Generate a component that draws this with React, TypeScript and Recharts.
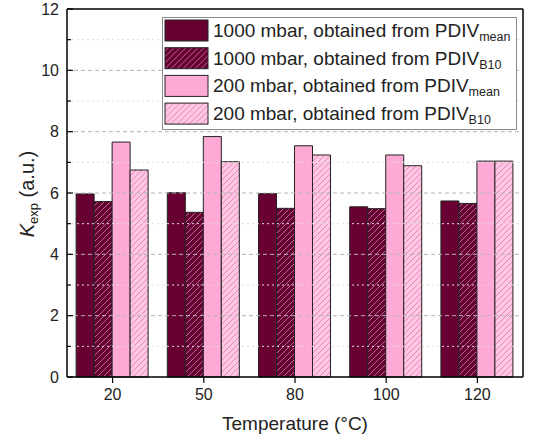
import React from 'react';
import { BarChart, Bar, XAxis, YAxis, ReferenceLine, Label } from 'recharts';

const TEMPERATURES = ['20', '50', '80', '100', '120'];
const K_1000_MEAN = [5.97, 6.01, 5.98, 5.55, 5.74];
const K_1000_B10 = [5.72, 5.37, 5.5, 5.49, 5.66];
const K_200_MEAN = [7.66, 7.84, 7.54, 7.24, 7.04];
const K_200_B10 = [6.75, 7.02, 7.24, 6.89, 7.04];
const Y_TICKS = [0, 1, 2, 3, 4, 5, 6, 7, 8, 9, 10, 11, 12];

const SERIES = [
  { key: 'm1000', label: '1000 mbar, obtained from PDIV', sub: 'mean', fill: '#680034' },
  { key: 'b1000', label: '1000 mbar, obtained from PDIV', sub: 'B10', fill: 'url(#hatchDark)' },
  { key: 'm200', label: '200 mbar, obtained from PDIV', sub: 'mean', fill: '#ffaad6' },
  { key: 'b200', label: '200 mbar, obtained from PDIV', sub: 'B10', fill: 'url(#hatchPink)' },
];

const data = TEMPERATURES.map((t, i) => ({
  temp: t,
  m1000: K_1000_MEAN[i],
  b1000: K_1000_B10[i],
  m200: K_200_MEAN[i],
  b200: K_200_B10[i],
}));

const FONT = 'Arial, "Liberation Sans", sans-serif';
const PLOT_LEFT = 67;
const PLOT_RIGHT = 523;

function Hatches({ suffix = '' }: { suffix?: string }) {
  return (
    <defs>
      <pattern id={`hatchDark${suffix}`} patternUnits="userSpaceOnUse" width="6" height="6">
        <rect width="6" height="6" fill="#680034" />
        <path d="M0,6 L6,0 M-1,1 L1,-1 M5,7 L7,5" stroke="#b26a8e" strokeWidth="1" />
      </pattern>
      <pattern id={`hatchPink${suffix}`} patternUnits="userSpaceOnUse" width="6" height="6">
        <rect width="6" height="6" fill="#ffc6e3" />
        <path d="M0,6 L6,0 M-1,1 L1,-1 M5,7 L7,5" stroke="#e58ab8" strokeWidth="1" />
      </pattern>
    </defs>
  );
}

const LeftTick = (props: any) => {
  const { y, payload } = props;
  const major = payload.value % 2 === 0;
  return (
    <g>
      <line x1={PLOT_LEFT} x2={PLOT_LEFT + (major ? 6 : 4)} y1={y} y2={y} stroke="#000" strokeWidth={1.2} />
      {major && (
        <text x={PLOT_LEFT - 8} y={y} dy={5.5} textAnchor="end" fontSize={16} fill="#222" fontFamily={FONT}>
          {payload.value}
        </text>
      )}
    </g>
  );
};

const RightTick = (props: any) => {
  const { y, payload } = props;
  const major = payload.value % 2 === 0;
  return <line x1={PLOT_RIGHT} x2={PLOT_RIGHT - (major ? 6 : 4)} y1={y} y2={y} stroke="#000" strokeWidth={1.2} />;
};

const YLabel = () => (
  <text transform="translate(34,194) rotate(-90)" textAnchor="middle" fontSize={20} fill="#222" fontFamily={FONT}>
    <tspan fontStyle="italic">K</tspan>
    <tspan fontSize={13} dy={4}>exp</tspan>
    <tspan dy={-4}> (a.u.)</tspan>
  </text>
);

function LegendBox() {
  return (
    <div
      style={{
        position: 'absolute', left: 162, top: 17, width: 355, height: 113,
        background: '#fff', border: '1px solid #8a8a8a', boxSizing: 'border-box',
      }}
    >
      <svg width={355} height={113} style={{ display: 'block' }}>
        <Hatches suffix="L" />
        {SERIES.map((s, i) => (
          <g key={s.key} transform={`translate(0,${1 + i * 27.7})`}>
            <rect x={2} y={1} width={43} height={21} fill={s.fill.replace(')', 'L)')} stroke="#222" strokeWidth={1} />
            <text x={50} y={18} fontSize={19} fill="#222" fontFamily={FONT}>
              {s.label}
              <tspan fontSize={12.5} dy={4}>{s.sub}</tspan>
            </text>
          </g>
        ))}
      </svg>
    </div>
  );
}

export default function App() {
  return (
    <div style={{ position: 'absolute', left: 0, top: 0, width: 533, height: 435, background: '#fff' }}>
      <BarChart
        width={533}
        height={435}
        data={data}
        margin={{ top: 9, right: 0, bottom: 0, left: 27 }}
        barCategoryGap="10%"
        barGap={0}
      >
        <Hatches />
        {Y_TICKS.filter((v) => v > 0 && v < 12).map((v) => (
          <ReferenceLine
            key={v}
            y={v}
            stroke={v % 2 === 0 ? '#b5b5b5' : '#dcdcdc'}
            strokeDasharray={v % 2 === 0 ? '4 3' : '2 3'}
          />
        ))}
        <XAxis
          dataKey="temp"
          height={58}
          tickSize={6}
          tickLine={{ stroke: '#000', strokeWidth: 1.2 }}
          axisLine={{ stroke: '#000', strokeWidth: 1.5 }}
          tick={{ fontSize: 16, fill: '#222', fontFamily: FONT, dy: 4 }}
        >
          <Label value="Temperature (°C)" position="insideBottom" offset={5} fontSize={19} fill="#222" fontFamily={FONT} />
        </XAxis>
        <YAxis
          domain={[0, 12]}
          ticks={Y_TICKS}
          interval={0}
          width={40}
          tickLine={false}
          axisLine={{ stroke: '#000', strokeWidth: 1.5 }}
          tick={<LeftTick />}
          label={<YLabel />}
        />
        <YAxis
          yAxisId="r"
          orientation="right"
          domain={[0, 12]}
          ticks={Y_TICKS}
          interval={0}
          width={10}
          tickLine={false}
          axisLine={{ stroke: '#000', strokeWidth: 1.5 }}
          tick={<RightTick />}
        />
        <ReferenceLine y={12} stroke="#000" strokeWidth={1.5} />
        {SERIES.map((s) => (
          <Bar key={s.key} dataKey={s.key} fill={s.fill} stroke="#222" strokeWidth={1} isAnimationActive={false} />
        ))}
      </BarChart>
      <LegendBox />
    </div>
  );
}
